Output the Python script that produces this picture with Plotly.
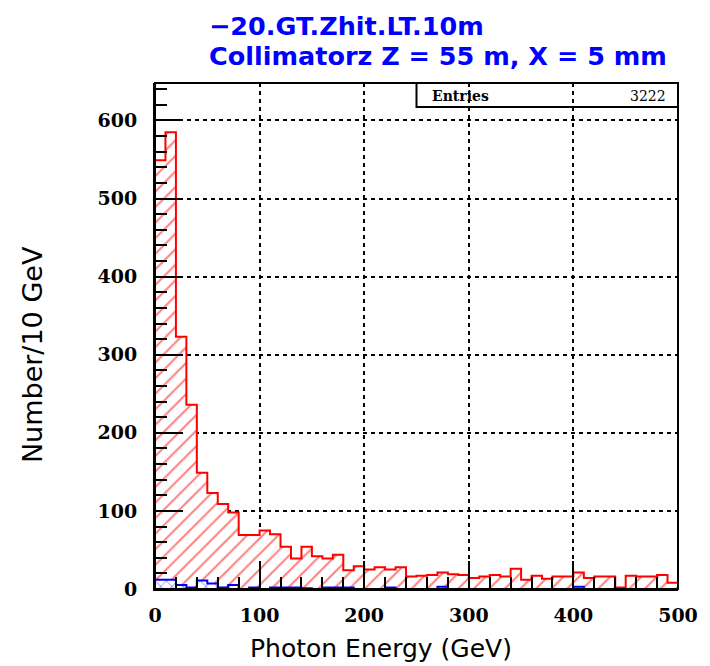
import plotly.graph_objects as go

# ---------------- data ----------------
bin_left = [0, 10, 20, 30, 40, 50, 60, 70, 80, 90,
            100, 110, 120, 130, 140, 150, 160, 170, 180, 190,
            200, 210, 220, 230, 240, 250, 260, 270, 280, 290,
            300, 310, 320, 330, 340, 350, 360, 370, 380, 390,
            400, 410, 420, 430, 440, 450, 460, 470, 480, 490]
bin_width = 10
red_counts = [549, 585, 323, 236, 149, 123, 109, 98, 69, 69,
              75, 70, 54, 39, 54, 42, 39, 44, 24, 29,
              25, 28, 25, 28, 16, 17, 18, 21, 19, 18,
              14, 16, 18, 16, 26, 12, 17, 13, 16, 16,
              21, 14, 16, 16, 2, 17, 16, 16, 18, 8]
blue_counts = [12, 12, 5, 2, 11, 7, 2, 5, 0, 2,
               0, 2, 2, 2, 1, 0, 2, 2, 2, 0,
               0, 0, 2, 0, 0, 0, 0, 3, 0, 0,
               0, 0, 0, 0, 0, 0, 0, 0, 0, 0,
               3, 0, 0, 0, 0, 0, 0, 0, 0, 0]
x_max = 500
y_max = 648
title_lines = ["\u221220.GT.Zhit.LT.10m", "Collimatorz Z = 55 m, X = 5 mm"]
entries_label = "Entries"
entries_value = "3222"
x_title = "Photon Energy (GeV)"
y_title = "Number/10 GeV"

# ---------------- layout geometry ----------------
W, H = 710, 666
L, R, T, B = 155, 687, 83, 589


def px_x(p):
    return (p - L) / (R - L)


def px_y(p):
    return (B - p) / (B - T)


def step_xy(counts):
    xs = [bin_left[0]] + bin_left + [x_max, x_max]
    ys = [0] + counts + [counts[-1], 0]
    return xs, ys


fig = go.Figure()

# red hatched histogram
fig.add_trace(go.Bar(
    x=bin_left, y=red_counts, width=bin_width, offset=0,
    marker=dict(color="white", line=dict(width=0),
                pattern=dict(shape="/", fgcolor="red", bgcolor="white",
                             size=11, solidity=0.18)),
    hoverinfo="skip", showlegend=False))
rx, ry = step_xy(red_counts)
fig.add_trace(go.Scatter(x=rx, y=ry, mode="lines", line=dict(color="red", width=2, shape="hv"),
                         hoverinfo="skip", showlegend=False))

# blue histogram
fig.add_trace(go.Bar(
    x=bin_left, y=blue_counts, width=bin_width, offset=0,
    marker=dict(color="white", line=dict(width=0),
                pattern=dict(shape="x", fgcolor="blue", bgcolor="white",
                             size=8, solidity=0.2)),
    hoverinfo="skip", showlegend=False))
bx, by = step_xy(blue_counts)
fig.add_trace(go.Scatter(x=bx, y=by, mode="lines", line=dict(color="blue", width=2, shape="hv"),
                         hoverinfo="skip", showlegend=False))

axis_common = dict(
    showline=True, linecolor="black", linewidth=2, mirror=False,
    showgrid=True, gridcolor="black", gridwidth=1.5, griddash="4px,4px",
    zeroline=False, ticks="inside", ticklen=28, tickwidth=2, tickcolor="black",
    tickfont=dict(family="DejaVu Serif", size=19, color="black", weight="bold"),
    minor=dict(dtick=20, ticks="inside", ticklen=12, tickwidth=2, tickcolor="black", showgrid=False),
)

fig.update_xaxes(range=[0, x_max], dtick=100, tick0=0, ticklabelstandoff=8, **axis_common)
fig.update_yaxes(range=[0, y_max], dtick=100, tick0=0, ticklabelstandoff=12, **axis_common)

annotations = [
    dict(text=title_lines[0], xref="paper", yref="paper", x=px_x(208), y=px_y(25.5),
         xanchor="left", yanchor="middle", showarrow=False,
         font=dict(family="DejaVu Sans", size=25.5, color="blue", weight="bold")),
    dict(text=title_lines[1], xref="paper", yref="paper", x=px_x(208), y=px_y(56),
         xanchor="left", yanchor="middle", showarrow=False,
         font=dict(family="DejaVu Sans", size=25.5, color="blue", weight="bold")),
    dict(text=x_title, xref="paper", yref="paper", x=px_x(385), y=px_y(648),
         xanchor="center", yanchor="middle", showarrow=False,
         font=dict(family="DejaVu Sans", size=25, color="black")),
    dict(text=y_title, xref="paper", yref="paper", x=px_x(30), y=px_y(355),
         xanchor="center", yanchor="middle", showarrow=False, textangle=-90,
         font=dict(family="DejaVu Sans", size=27, color="black")),
    dict(text=entries_label, xref="paper", yref="paper", x=px_x(435), y=px_y(96),
         xanchor="left", yanchor="middle", showarrow=False,
         font=dict(family="DejaVu Serif", size=14, color="black", weight="bold")),
    dict(text=entries_value, xref="paper", yref="paper", x=px_x(677), y=px_y(96),
         xanchor="right", yanchor="middle", showarrow=False,
         font=dict(family="DejaVu Serif", size=14, color="black")),
]

shapes = [
    dict(type="rect", xref="paper", yref="paper", x0=0, x1=1.0, y0=0, y1=1.0,
         line=dict(color="black", width=2), fillcolor="rgba(0,0,0,0)", layer="above"),
    dict(type="rect", xref="paper", yref="paper", x0=px_x(421), x1=1.0, y0=px_y(107), y1=1.0,
         line=dict(color="black", width=2), fillcolor="rgba(0,0,0,0)", layer="above"),
]

fig.update_layout(
    width=W, height=H, autosize=False,
    margin=dict(l=L, r=W - R, t=T, b=H - B, pad=0),
    paper_bgcolor="white", plot_bgcolor="white",
    bargap=0, barmode="overlay",
    annotations=annotations, shapes=shapes,
    showlegend=False,
)

fig.write_html("out.html")
